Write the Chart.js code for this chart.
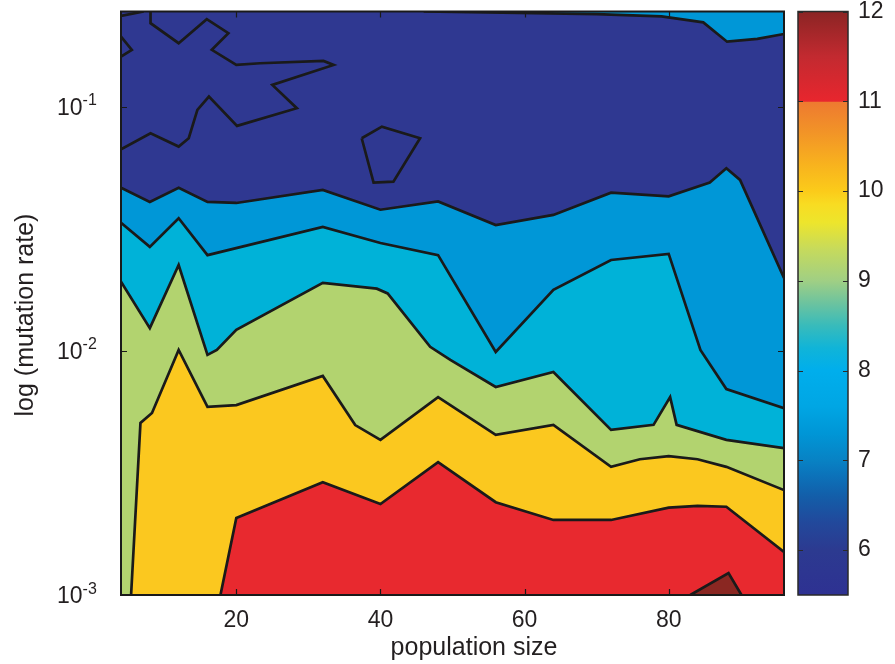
<!DOCTYPE html>
<html>
<head>
<meta charset="utf-8">
<title>Population size vs mutation rate</title>
<script src="https://cdn.jsdelivr.net/npm/chart.js@4.4.1/dist/chart.umd.min.js"></script>
<style>
  html, body { margin: 0; padding: 0; background: #fff; }
  #wrap { position: relative; width: 895px; height: 664px; }
  #main { position: absolute; left: 0; top: 0; }
  #bar { position: absolute; left: 790px; top: 0; }
</style>
</head>
<body>
<div id="wrap">
  <canvas id="main" width="895" height="664"></canvas>
  <canvas id="bar" width="105" height="664"></canvas>
</div>
<script>
// ---- axis extents and ticks ----
const xRange = [4, 96];
const yRange = [0.001, 0.246];
const xTickValues = [20, 40, 60, 80];
const xTickLabels = ['20', '40', '60', '80'];
const yTickValues = [0.001, 0.01, 0.1];
const yTickLabels = [['10', '-3'], ['10', '-2'], ['10', '-1']];
const colorbarRange = [5.5, 12];
const colorbarTicks = [6, 7, 8, 9, 10, 11, 12];

// ---- contour lines: population size (x) and mutation rate (y) ----
// level 12 (small patch at the bottom right)
const level12X = [83, 88.3, 90.1];
const level12Y = [0.001, 0.00123, 0.001];
// level 11
const level11X = [17.8, 20, 32, 40, 48, 56, 64, 72, 80, 84, 88, 96];
const level11Y = [0.001, 0.00207, 0.0029, 0.00236, 0.0035, 0.0024, 0.00203, 0.00203, 0.00228, 0.00232, 0.0023, 0.0015];
// level 10
const level10X = [5.4, 6.7, 8.3, 12, 16, 20, 32, 36.5, 40, 48, 56, 64, 72, 76, 80, 84, 88, 96];
const level10Y = [0.001, 0.00507, 0.00557, 0.0101, 0.0059, 0.006, 0.0079, 0.00497, 0.00432, 0.00647, 0.00453, 0.00498, 0.00335, 0.0036, 0.00371, 0.0036, 0.00335, 0.00269];
// level 9
const level9X = [4, 8, 12, 16, 17.3, 20, 32, 39.5, 41, 46.9, 49.7, 56, 64, 72, 77.9, 80.2, 81.1, 88, 96];
const level9Y = [0.0192, 0.0124, 0.0225, 0.00964, 0.0101, 0.0122, 0.019, 0.018, 0.0172, 0.0104, 0.0092, 0.00712, 0.0082, 0.00475, 0.00498, 0.00647, 0.00498, 0.00432, 0.004];
// level 8
const level8X = [4, 8, 12, 16, 32, 40, 48, 56, 64, 72, 80, 84.4, 88, 96];
const level8Y = [0.0335, 0.0267, 0.035, 0.0247, 0.0322, 0.0277, 0.0247, 0.0099, 0.0178, 0.0236, 0.025, 0.0101, 0.00698, 0.00583];
// level 7
const level7X = [4, 8, 12, 16, 20, 32, 40, 48, 56, 64, 72, 80, 85.7, 88, 89.9, 96];
const level7Y = [0.0466, 0.0408, 0.0466, 0.0408, 0.0404, 0.0457, 0.0379, 0.041, 0.0328, 0.0361, 0.0445, 0.043, 0.049, 0.0561, 0.0502, 0.0199];
// level 7 again, along the top edge on the right
const level7TopX = [46, 70, 79, 84.8, 88.1, 92.3, 96];
const level7TopY = [0.246, 0.240, 0.235, 0.222, 0.185, 0.19, 0.199];
// level 6 closed/edge contours inside the top region
const level6StarX = [8.1, 8.1, 12, 15.9, 18.9, 16.6, 20, 23.3, 32.1, 33.5, 25, 28.4, 20.1, 16.2, 14.6, 13.4, 12, 8.1, 4];
const level6StarY = [0.246, 0.2203, 0.1824, 0.2288, 0.2004, 0.1713, 0.1486, 0.151, 0.1543, 0.1486, 0.1231, 0.0988, 0.0836, 0.1102, 0.0972, 0.0744, 0.0688, 0.078, 0.0671];
const level6NotchX = [4, 5.5, 4];
const level6NotchY = [0.194, 0.1713, 0.1607];
const level6CornerX = [4, 7.15];
const level6CornerY = [0.236, 0.246];
const level6LoopX = [37.4, 40.2, 45.5, 41.8, 39.05, 37.4];
const level6LoopY = [0.0744, 0.083, 0.0744, 0.0494, 0.049, 0.0744];

// ---- styling ----
const FONT = "'Liberation Sans', Arial, Helvetica, sans-serif";
const TEXT = '#231f20';
const LINE = '#1a1a1a';
const fills = {
  level6: '#2f3891',
  level7: '#0097d7',
  level8: '#00b2d8',
  level9: '#b2d36f',
  level10: '#fbc81f',
  level11: '#e8292f',
  level12: '#8a2722'
};
// colour scale of the bar on the right (value, colour)
const colorStops = [
  [5.5, '#2e3192'], [6.0, '#2c3a90'], [6.3, '#22489b'], [6.6, '#135ea9'],
  [6.85, '#0b74bb'], [7.0, '#0882c4'], [7.3, '#0096d6'], [7.6, '#00a6e4'],
  [8.0, '#00aeec'], [8.25, '#10b4d8'], [8.5, '#38bbbb'], [8.75, '#6cc39f'],
  [9.0, '#a0cf84'], [9.35, '#c6da5c'], [9.65, '#ede52c'], [9.85, '#f8dc22'],
  [10.0, '#fbcb1a'], [10.3, '#f8b21e'], [10.65, '#f29427'], [10.99, '#ee7a30'],
  [11.0, '#e8262e'], [11.5, '#c22a30'], [12.0, '#8b2424']
];

const toPoints = (xs, ys) => xs.map((x, i) => ({ x: x, y: ys[i] }));

function contour(xs, ys, fill, color) {
  return {
    data: toPoints(xs, ys),
    borderColor: LINE,
    borderWidth: 2.7,
    pointRadius: 0,
    tension: 0,
    fill: fill,
    backgroundColor: color || 'transparent'
  };
}

// earlier datasets sit on top
const datasets = [
  contour(level6StarX, level6StarY, false),
  contour(level6NotchX, level6NotchY, false),
  contour(level6CornerX, level6CornerY, false),
  contour(level6LoopX, level6LoopY, false),
  contour(level12X, level12Y, 'start', fills.level12),
  contour(level11X, level11Y, 'start', fills.level11),
  contour(level10X, level10Y, 'start', fills.level10),
  contour(level9X, level9Y, 'start', fills.level9),
  contour(level8X, level8Y, 'start', fills.level8),
  contour(level7X, level7Y, 'start', fills.level7),
  contour(level7TopX, level7TopY, 'end', fills.level7)
];

// plot background, box, inward ticks, log tick labels and axis titles
const axesPlugin = {
  id: 'axesDecor',
  beforeDraw(chart) {
    const { ctx, chartArea: a } = chart;
    ctx.save();
    ctx.fillStyle = fills.level6;
    ctx.fillRect(a.left, a.top, a.width, a.height);
    ctx.restore();
  },
  afterDatasetsDraw(chart) {
    const { ctx, chartArea: a, scales } = chart;
    ctx.save();
    ctx.strokeStyle = LINE;
    ctx.lineWidth = 1.2;
    ctx.beginPath();
    xTickValues.forEach(v => {
      const px = Math.round(scales.x.getPixelForValue(v)) + 0.5;
      ctx.moveTo(px, a.bottom); ctx.lineTo(px, a.bottom - 6);
      ctx.moveTo(px, a.top); ctx.lineTo(px, a.top + 6);
    });
    yTickValues.forEach(v => {
      const py = Math.round(scales.y.getPixelForValue(v)) + 0.5;
      ctx.moveTo(a.left, py); ctx.lineTo(a.left + 6, py);
      ctx.moveTo(a.right, py); ctx.lineTo(a.right - 6, py);
    });
    ctx.stroke();
    ctx.lineWidth = 2;
    ctx.strokeRect(a.left, a.top, a.width, a.height);
    ctx.restore();
  },
  afterDraw(chart) {
    const { ctx, scales } = chart;
    ctx.save();
    ctx.fillStyle = TEXT;
    ctx.textAlign = 'left';
    ctx.textBaseline = 'alphabetic';
    yTickValues.forEach((v, i) => {
      const py = scales.y.getPixelForValue(v);
      const [base, exp] = yTickLabels[i];
      ctx.font = '23px ' + FONT;
      const w = ctx.measureText(base).width;
      const x0 = 57;
      ctx.fillText(base, x0, py + 8.2);
      ctx.font = '16px ' + FONT;
      ctx.fillText(exp, x0 + w, py - 1.5);
    });
    ctx.font = '25px ' + FONT;
    ctx.textAlign = 'center';
    ctx.fillText('population size', 474, 655);
    ctx.translate(33, 315);
    ctx.rotate(-Math.PI / 2);
    ctx.fillText('log (mutation rate)', 0, 0);
    ctx.restore();
  }
};

new Chart(document.getElementById('main'), {
  type: 'line',
  data: { datasets: datasets },
  options: {
    responsive: false,
    animation: false,
    devicePixelRatio: 1,
    events: [],
    layout: { padding: { top: 11.5, right: 111, left: 0, bottom: 0 } },
    scales: {
      x: {
        type: 'linear',
        min: xRange[0],
        max: xRange[1],
        afterBuildTicks: s => { s.ticks = xTickValues.map(v => ({ value: v })); },
        afterFit: s => { s.height = 69; },
        grid: { display: false, drawTicks: false },
        border: { display: false },
        ticks: {
          padding: 12,
          autoSkip: false,
          maxRotation: 0,
          color: TEXT,
          font: { family: FONT, size: 23 },
          callback: v => xTickLabels[xTickValues.indexOf(v)]
        }
      },
      y: {
        type: 'logarithmic',
        min: yRange[0],
        max: yRange[1],
        afterBuildTicks: s => { s.ticks = yTickValues.map(v => ({ value: v })); },
        afterFit: s => { s.width = 121; },
        grid: { display: false, drawTicks: false },
        border: { display: false },
        ticks: { display: false }
      }
    },
    plugins: {
      legend: { display: false },
      tooltip: { enabled: false },
      filler: { drawTime: 'beforeDatasetsDraw' }
    }
  },
  plugins: [axesPlugin]
});

// ---- colour bar ----
function barGradient(context) {
  const chart = context.chart;
  const area = chart.chartArea;
  if (!area) return fills.level7;
  const y = chart.scales.y;
  const y0 = y.getPixelForValue(colorbarRange[0]);
  const y1 = y.getPixelForValue(colorbarRange[1]);
  const g = chart.ctx.createLinearGradient(0, y0, 0, y1);
  const span = colorbarRange[1] - colorbarRange[0];
  colorStops.forEach(([v, c]) => g.addColorStop((v - colorbarRange[0]) / span, c));
  return g;
}

const barFramePlugin = {
  id: 'barFrame',
  afterDatasetsDraw(chart) {
    const { ctx, chartArea: a, scales } = chart;
    ctx.save();
    ctx.strokeStyle = '#2a2a2a';
    ctx.lineWidth = 1.2;
    ctx.beginPath();
    colorbarTicks.forEach(v => {
      const py = Math.round(scales.y.getPixelForValue(v)) + 0.5;
      ctx.moveTo(a.left, py); ctx.lineTo(a.left + 5, py);
      ctx.moveTo(a.right, py); ctx.lineTo(a.right - 5, py);
    });
    ctx.stroke();
    ctx.lineWidth = 1.5;
    ctx.strokeRect(a.left, a.top, a.width, a.height);
    ctx.restore();
  }
};

new Chart(document.getElementById('bar'), {
  type: 'bar',
  data: {
    labels: [''],
    datasets: [{
      data: [colorbarRange],
      backgroundColor: barGradient,
      borderWidth: 0,
      categoryPercentage: 1,
      barPercentage: 1
    }]
  },
  options: {
    responsive: false,
    animation: false,
    devicePixelRatio: 1,
    events: [],
    layout: { padding: { top: 11.5, bottom: 69, left: 8, right: 0 } },
    scales: {
      x: { display: false },
      y: {
        position: 'right',
        min: colorbarRange[0],
        max: colorbarRange[1],
        afterBuildTicks: s => { s.ticks = colorbarTicks.map(v => ({ value: v })); },
        afterFit: s => { s.width = 47; s.paddingTop = 0; s.paddingBottom = 0; },
        grid: { display: false, drawTicks: false },
        border: { display: false },
        ticks: { padding: 10, color: TEXT, font: { family: FONT, size: 23 } }
      }
    },
    plugins: { legend: { display: false }, tooltip: { enabled: false } }
  },
  plugins: [barFramePlugin]
});
</script>
</body>
</html>
